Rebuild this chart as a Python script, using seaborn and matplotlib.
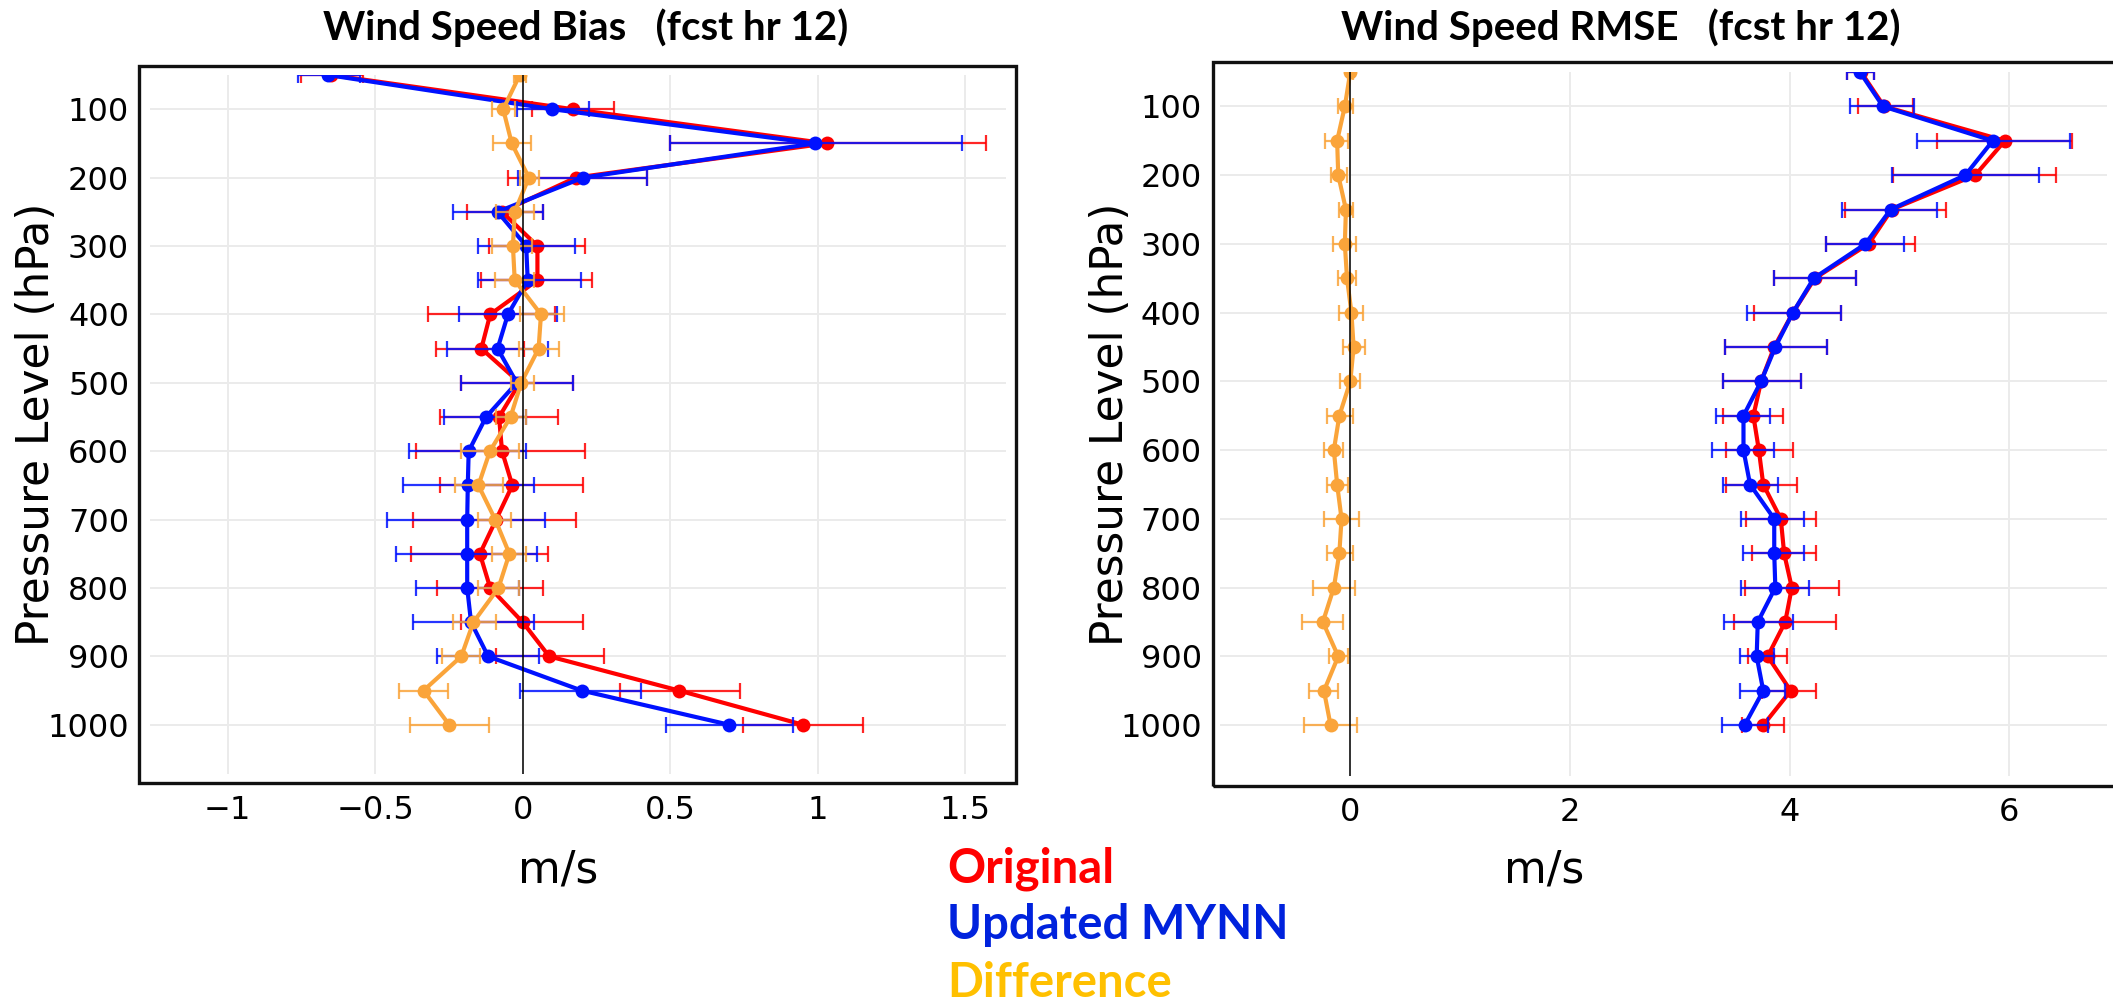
import numpy as np
import pandas as pd
import matplotlib
matplotlib.use("Agg")
import matplotlib.pyplot as plt
from matplotlib.patches import Rectangle
from matplotlib.ticker import FixedLocator, FuncFormatter
import seaborn as sns

# Pressure levels (hPa)
levels = [50, 100, 150, 200, 250, 300, 350, 400, 450, 500,
          550, 600, 650, 700, 750, 800, 850, 900, 950, 1000]

# ---- Wind speed bias (m/s) ----
bias_orig = [-0.65, 0.17, 1.03, 0.18, -0.07, 0.05, 0.05, -0.11, -0.14, -0.01,
             -0.08, -0.07, -0.035, -0.09, -0.145, -0.11, 0.0, 0.09, 0.53, 0.95]
bias_orig_lo = [-0.75, 0.03, 0.50, -0.05, -0.19, -0.115, -0.14, -0.32, -0.295, -0.21,
                -0.28, -0.36, -0.28, -0.37, -0.38, -0.29, -0.21, -0.09, 0.33, 0.745]
bias_orig_hi = [-0.54, 0.31, 1.57, 0.42, 0.07, 0.21, 0.235, 0.11, 0.006, 0.17,
                0.12, 0.21, 0.205, 0.18, 0.085, 0.07, 0.205, 0.275, 0.735, 1.155]

bias_mynn = [-0.66, 0.10, 0.99, 0.205, -0.085, 0.012, 0.017, -0.05, -0.085, -0.02,
             -0.124, -0.183, -0.186, -0.188, -0.188, -0.188, -0.175, -0.117, 0.20, 0.70]
bias_mynn_lo = [-0.76, -0.02, 0.50, -0.015, -0.235, -0.15, -0.15, -0.215, -0.255, -0.21,
                -0.265, -0.385, -0.405, -0.46, -0.43, -0.36, -0.37, -0.29, -0.008, 0.487]
bias_mynn_hi = [-0.55, 0.225, 1.49, 0.42, 0.07, 0.177, 0.196, 0.118, 0.085, 0.17,
                0.012, 0.012, 0.037, 0.075, 0.05, -0.014, 0.037, 0.056, 0.40, 0.915]

bias_diff = [-0.01, -0.066, -0.037, 0.021, -0.027, -0.033, -0.027, 0.062, 0.054, -0.005,
             -0.041, -0.111, -0.15, -0.093, -0.045, -0.082, -0.167, -0.208, -0.336, -0.249]
bias_diff_lo = [-0.03, -0.105, -0.10, -0.008, -0.09, -0.105, -0.095, -0.01, -0.012, -0.04,
                -0.09, -0.208, -0.231, -0.153, -0.105, -0.15, -0.235, -0.274, -0.419, -0.381]
bias_diff_hi = [0.01, -0.025, 0.027, 0.054, 0.04, 0.03, 0.04, 0.14, 0.124, 0.04,
                0.01, -0.014, -0.066, -0.041, 0.012, -0.014, -0.089, -0.144, -0.254, -0.115]

# ---- Wind speed RMSE (m/s) ----
rmse_orig = [4.65, 4.86, 5.96, 5.69, 4.93, 4.72, 4.23, 4.03, 3.86, 3.74,
             3.67, 3.72, 3.76, 3.92, 3.95, 4.02, 3.96, 3.80, 4.01, 3.76]
rmse_orig_lo = [4.52, 4.62, 5.34, 4.94, 4.50, 4.33, 3.86, 3.68, 3.41, 3.39,
                3.39, 3.42, 3.42, 3.60, 3.66, 3.59, 3.49, 3.62, 3.75, 3.57]
rmse_orig_hi = [4.77, 5.12, 6.57, 6.43, 5.42, 5.14, 4.60, 4.47, 4.34, 4.10,
                3.94, 4.03, 4.07, 4.24, 4.24, 4.45, 4.42, 3.98, 4.24, 3.95]

rmse_mynn = [4.64, 4.85, 5.85, 5.60, 4.92, 4.69, 4.22, 4.03, 3.87, 3.74,
             3.58, 3.58, 3.64, 3.86, 3.86, 3.87, 3.71, 3.70, 3.76, 3.59]
rmse_mynn_lo = [4.52, 4.55, 5.16, 4.93, 4.48, 4.33, 3.86, 3.61, 3.41, 3.39,
                3.33, 3.29, 3.39, 3.56, 3.58, 3.56, 3.40, 3.55, 3.55, 3.38]
rmse_mynn_hi = [4.77, 5.13, 6.55, 6.27, 5.34, 5.04, 4.60, 4.47, 4.34, 4.10,
                3.82, 3.86, 3.89, 4.13, 4.13, 4.18, 4.03, 3.86, 3.96, 3.80]

rmse_diff = [0.0, -0.05, -0.12, -0.11, -0.04, -0.05, -0.03, 0.01, 0.03, 0.0,
             -0.10, -0.15, -0.12, -0.08, -0.10, -0.15, -0.25, -0.11, -0.24, -0.18]
rmse_diff_lo = [-0.02, -0.11, -0.23, -0.18, -0.10, -0.16, -0.11, -0.10, -0.07, -0.09,
                -0.21, -0.24, -0.21, -0.24, -0.21, -0.34, -0.44, -0.19, -0.38, -0.42]
rmse_diff_hi = [0.02, 0.02, -0.02, -0.03, 0.02, 0.05, 0.05, 0.12, 0.13, 0.09,
                0.02, -0.07, -0.02, 0.08, 0.02, 0.04, -0.07, -0.02, -0.11, 0.06]

series_names = ["Original", "Updated MYNN", "Difference"]
line_colors = ["#FF0000", "#0011FF", "#FAA43A"]
text_colors = ["#FF0000", "#0022DD", "#FFC000"]

bias_xticks = [-1, -0.5, 0, 0.5, 1, 1.5]
rmse_xticks = [0, 2, 4, 6]
yticks = [100, 200, 300, 400, 500, 600, 700, 800, 900, 1000]

W, H = 2113, 1002
sns.set_theme(style="white")
plt.rcParams["font.family"] = ["DejaVu Sans"]
fig = plt.figure(figsize=(W / 100, H / 100), dpi=100)


def px_axes(x0, y0, x1, y1):
    return fig.add_axes([x0 / W, 1 - y1 / H, (x1 - x0) / W, (y1 - y0) / H])


def frame(x0, y0, x1, y1):
    fig.patches.append(Rectangle((x0 / W, 1 - y1 / H), (x1 - x0) / W, (y1 - y0) / H,
                                 transform=fig.transFigure, fill=False,
                                 lw=2.4, ec="#111111", zorder=20))


def fmt_tick(v, _pos):
    return ("%g" % v).replace("-", "\u2212")


def draw_panel(ax, data, xlim, ylim, xticks):
    ax.set_axisbelow(True)
    ax.grid(True, color="#ebebeb", lw=1.4)
    for s in ax.spines.values():
        s.set_visible(False)
    for k, (vals, lo, hi) in enumerate(data):
        vals = np.asarray(vals)
        err = [vals - np.asarray(lo), np.asarray(hi) - vals]
        ax.errorbar(vals, levels, xerr=err, fmt="none", ecolor=line_colors[k],
                    elinewidth=1.6, capsize=5.5, capthick=1.6, alpha=0.85,
                    zorder=3 + 2 * k)
        df = pd.DataFrame({"value": vals, "level": levels})
        sns.lineplot(data=df, x="value", y="level", orient="y", errorbar=None,
                     color=line_colors[k], lw=3.0, marker="o", markersize=10,
                     markeredgewidth=0, ax=ax, zorder=4 + 2 * k, legend=False)
    ax.axvline(0, color="black", lw=1.1, zorder=12)
    ax.set_xlim(*xlim)
    ax.set_ylim(*ylim)
    ax.xaxis.set_major_locator(FixedLocator(xticks))
    ax.xaxis.set_major_formatter(FuncFormatter(fmt_tick))
    ax.yaxis.set_major_locator(FixedLocator(yticks))
    ax.yaxis.set_major_formatter(FuncFormatter(fmt_tick))
    ax.tick_params(length=0, labelsize=23, pad=15, colors="black")
    ax.set_ylabel("Pressure Level (hPa)", fontsize=31.5, color="black")
    ax.set_xlabel("m/s", fontsize=31.5, color="black")
    ax.xaxis.label.set_va("top")


# Left panel: bias
ax1 = px_axes(150, 75, 1006, 774)
draw_panel(ax1,
           [(bias_orig, bias_orig_lo, bias_orig_hi),
            (bias_mynn, bias_mynn_lo, bias_mynn_hi),
            (bias_diff, bias_diff_lo, bias_diff_hi)],
           (-1.263, 1.638), (1072, 50), bias_xticks)
ax1.yaxis.set_label_coords((58 - 150) / 856, 0.5)
ax1.xaxis.set_label_coords((558 - 150) / 856, (774 - 849) / 699)
frame(139, 66, 1016, 783)

# Right panel: RMSE
ax2 = px_axes(1220.4, 72, 2107, 776)
draw_panel(ax2,
           [(rmse_orig, rmse_orig_lo, rmse_orig_hi),
            (rmse_mynn, rmse_mynn_lo, rmse_mynn_hi),
            (rmse_diff, rmse_diff_lo, rmse_diff_hi)],
           (-1.183, 6.89), (1074, 50), rmse_xticks)
ax2.tick_params(axis="y", pad=13.5)
ax2.yaxis.set_label_coords((1132 - 1220.4) / 886.6, 0.5)
ax2.xaxis.set_label_coords((1544 - 1220.4) / 886.6, (776 - 849) / 704)
frame(1212.7, 62, 2125, 786)

# Panel titles
title_font = dict(family=["Lato", "DejaVu Sans"], weight="bold", fontsize=29,
                  color="black", va="baseline", ha="center")
fig.text(586 / W, 1 - 40 / H, "Wind Speed Bias   (fcst hr 12)", **title_font)
fig.text(1621 / W, 1 - 40 / H, "Wind Speed RMSE   (fcst hr 12)", **title_font)

# Colour key for the three series
key_baselines = [882.7, 939.0, 996.7]
for name, col, yb in zip(series_names, text_colors, key_baselines):
    fig.text(947 / W, 1 - yb / H, name, color=col, fontsize=34, weight="bold",
             family=["Lato", "DejaVu Sans"], ha="left", va="baseline")

fig.savefig("out.png", dpi=100, facecolor="white")
